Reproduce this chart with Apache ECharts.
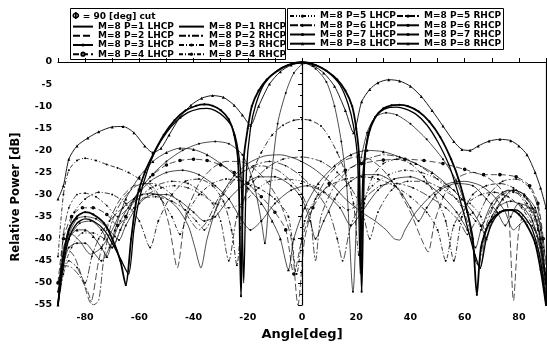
<!DOCTYPE html>
<html>
<head>
<meta charset="utf-8">
<script src="https://cdn.jsdelivr.net/npm/echarts@6/dist/echarts.min.js"></script>
<style>
  html, body { margin: 0; padding: 0; background: #fff; }
  #chart { width: 547px; height: 345px; }
</style>
</head>
<body>
<div id="chart"></div>
<script>
// [angle deg, relative power dB]
const p1_lhcp = [[-90,-55],[-88,-42],[-85,-39],[-82,-40.5],[-78,-43.5],[-74,-42],[-70,-38],[-66,-33],[-61,-30.5],[-56,-29.7],[-51,-30.5],[-46,-33],[-42,-37],[-39.5,-42],[-37.3,-46.6],[-35,-40],[-31,-32],[-26,-26.5],[-20,-23],[-14,-21.3],[-8,-21],[-2,-22],[4,-24],[10,-27],[16,-31],[22,-34],[27,-36],[31,-38],[34,-40],[36,-40.3],[38,-38],[42,-34],[48,-30],[54,-27.5],[60,-27],[66,-28],[71,-30.5],[75,-34],[78,-38],[82,-36],[86,-38],[88,-43],[90,-55]];
const p1_rhcp = [[-90,-55],[-88,-46],[-86,-40],[-83,-36.5],[-80,-35.5],[-77,-36],[-73,-38],[-70,-41],[-67,-44.5],[-64,-48],[-62,-38],[-60,-31],[-57,-24.5],[-54,-20],[-50,-16],[-46,-13.2],[-42,-11.4],[-38,-10.6],[-35,-10.5],[-32,-11],[-29,-12.3],[-26,-14.5],[-24,-18.5],[-22.5,-26],[-21.5,-50],[-20.5,-25],[-19,-15],[-17,-9.5],[-14,-5],[-10,-2.3],[-5,-0.6],[1,-0.2],[6,-0.9],[10,-2.5],[14,-5.2],[17,-9.5],[19,-14.5],[20.5,-22],[21.5,-48],[22.5,-25],[24,-17.5],[26,-13.5],[29,-11.2],[32,-10.3],[35,-10.2],[38,-10.6],[42,-11.8],[46,-14.2],[50,-18],[54,-23],[57,-28.5],[60,-35],[63,-42],[65.7,-46.6],[68,-40],[71,-35.5],[75,-33.5],[79,-33.5],[82,-35],[85,-38],[88,-45],[90,-55]];
const p2_lhcp = [[-90,-52],[-87,-42],[-84,-44],[-81,-49],[-78,-54.5],[-75,-45],[-71,-36],[-67,-31],[-62,-28],[-57,-27.5],[-52,-31],[-49,-37],[-46,-46.6],[-43,-35],[-38,-27.5],[-33,-24],[-28,-22.5],[-23,-22.5],[-18,-24],[-13,-27],[-8,-32],[-4,-40],[-1.5,-55],[1,-40],[5,-31],[10,-25.5],[15,-22.5],[20,-21.5],[25,-22],[30,-24.5],[35,-28.5],[40,-34],[44,-40],[46.5,-43],[49,-36],[53,-29.5],[58,-26],[63,-25],[68,-26],[73,-28.5],[76,-33],[78,-54],[80,-38],[83,-33],[86,-33.5],[88,-37],[90,-45]];
const p2_rhcp = [[-90,-55],[-88,-46],[-85,-46.5],[-82,-48.5],[-79,-52],[-77,-55],[-75,-54],[-73,-44],[-70,-36],[-66,-31],[-61,-28],[-55,-27.5],[-50,-29],[-45,-32],[-41,-36],[-38,-38],[-35,-36],[-31,-31],[-26,-27],[-21,-24.5],[-15,-23.5],[-9,-24.5],[-4,-27],[0,-30],[3,-35],[5,-45],[7,-35],[12,-28],[18,-24],[24,-22],[30,-21],[36,-21.5],[42,-23],[48,-25.5],[54,-29],[59,-33],[62,-38],[65,-46],[68,-37],[72,-31],[76,-29],[80,-30],[84,-34],[87,-41],[90,-55]];
const p3_lhcp = [[-90,-55],[-88,-44],[-86,-39],[-83,-35.5],[-80,-35],[-76,-35.5],[-72,-37.5],[-69,-39.5],[-67.5,-40.3],[-65,-37],[-60,-32],[-55,-30],[-50,-30],[-45,-31.5],[-40,-34],[-36,-36],[-32,-35],[-27,-31],[-22,-28],[-16,-26],[-10,-26],[-4,-28],[0,-31],[3,-36],[5,-40],[8,-36],[13,-30],[18,-27],[23,-25.5],[28,-25.5],[33,-27],[37,-30],[40,-33],[43,-36],[46,-33],[51,-29],[57,-27.5],[63,-28],[68,-31],[72,-34],[75,-37],[77,-35],[80,-32],[84,-33],[87,-37],[90,-50]];
const p3_rhcp = [[-90,-52],[-87,-40],[-84,-34],[-80,-31],[-75,-29.5],[-70,-30],[-65,-32],[-60,-36],[-56,-42],[-53,-36],[-48,-30],[-43,-27],[-38,-26.5],[-33,-28],[-29,-31.5],[-26,-38],[-24,-46],[-22,-33],[-19,-26],[-15,-20.5],[-11,-16.5],[-7,-14.3],[-3,-13.2],[0,-13],[3,-13.2],[7,-14.5],[10,-17],[13,-20.5],[16,-25],[19,-32],[21,-43.7],[23,-32],[26,-26],[30,-23],[35,-22],[40,-23],[45,-26],[49,-30],[53,-36],[56,-45],[59,-35],[63,-30],[68,-28],[73,-27.5],[78,-28.5],[83,-32],[87,-38],[90,-50]];
const p4_lhcp = [[-90,-50],[-88,-40],[-85,-35],[-81,-33],[-77,-33],[-72,-34.5],[-68,-37],[-65,-35],[-60,-29],[-55,-25.5],[-50,-23.3],[-45,-22.3],[-40,-22],[-35,-22.3],[-30,-23.3],[-25,-25],[-20,-27.5],[-15,-30.5],[-10,-34],[-6,-38],[-3,-48],[0,-40],[4,-33],[10,-27.5],[16,-24.5],[22,-23],[30,-22.2],[38,-22],[45,-22.3],[52,-23],[60,-24.3],[67,-25.5],[73,-25.5],[79,-26],[84,-28],[87,-32],[89,-40],[90,-48]];
const p4_rhcp = [[-90,-44],[-88,-30],[-86,-24.5],[-83,-22.3],[-80,-21.8],[-76,-22.3],[-72,-23.2],[-68,-24],[-64,-25],[-60,-26.5],[-56,-28.5],[-52,-31],[-48,-35],[-45,-39],[-42,-34],[-38,-30],[-33,-27.5],[-28,-26.5],[-22,-27],[-16,-28.5],[-10,-31],[-5,-35],[-2,-48],[1,-36],[5,-31],[10,-28],[16,-26.5],[22,-26],[28,-26.5],[34,-28],[40,-30.5],[46,-34],[50,-38],[53,-45],[56,-37],[61,-32],[66,-30],[71,-29.5],[76,-30.5],[81,-33],[85,-37],[88,-42],[90,-50]];
const p5_lhcp = [[-90,-55],[-88,-47],[-85,-42],[-81,-38.7],[-77,-38.7],[-73,-40],[-70,-42],[-67,-38],[-62,-33],[-57,-30],[-52,-28.5],[-47,-28],[-42,-28.5],[-37,-30],[-32,-32],[-27,-33],[-22,-32],[-17,-29],[-12,-27],[-6,-26.5],[0,-27],[6,-28.5],[12,-31],[17,-33.5],[21,-32],[26,-28],[32,-25.5],[38,-24.5],[44,-25],[50,-26.5],[56,-29],[62,-32],[66,-35],[68,-40],[70,-35],[74,-31],[78,-29.5],[82,-30.5],[86,-34],[88,-40],[90,-52]];
const p5_rhcp = [[-90,-55],[-88,-39],[-86,-33],[-83,-30],[-80,-29.7],[-76,-30.5],[-72,-32.5],[-68,-35],[-64,-33],[-59,-30],[-54,-28],[-48,-27],[-42,-27.5],[-37,-29.5],[-33,-32],[-30,-36],[-27,-45],[-24,-35],[-19,-28],[-13,-24],[-7,-22],[0,-21.5],[7,-22.5],[13,-25],[18,-28.5],[22,-33],[25,-40],[28,-34],[33,-29],[39,-27],[45,-27],[51,-28.5],[57,-31],[62,-34.5],[66,-37],[70,-33],[74,-30],[79,-29],[83,-31],[86,-35],[88,-41],[90,-55]];
const p6_lhcp = [[-90,-55],[-88,-48],[-86,-45],[-83,-46.5],[-80,-50],[-77.5,-44],[-75,-40],[-71,-36],[-66,-33],[-60,-31],[-54,-30.5],[-48,-31.5],[-43,-33.5],[-39,-36],[-36,-38],[-33,-35],[-29,-30],[-24,-26],[-18,-23.5],[-12,-22.5],[-6,-23.5],[0,-26],[6,-30],[10,-34],[13,-40],[15,-45],[18,-37],[23,-31],[29,-28],[35,-27.5],[41,-28.5],[47,-30.5],[53,-33],[58,-36],[61,-39],[64,-36],[69,-30],[74,-27],[79,-26.5],[84,-28.5],[87,-33],[89,-42],[90,-55]];
const p6_rhcp = [[-90,-55],[-88,-44],[-86,-38],[-83,-35],[-80,-34],[-77,-34.5],[-73,-36.5],[-70,-40],[-67,-45],[-65,-50.5],[-63,-40],[-61,-31],[-58,-25],[-55,-21],[-51,-16.5],[-47,-13.2],[-43,-11],[-39,-9.9],[-36,-9.6],[-33,-9.9],[-30,-10.9],[-27,-13],[-25,-16.5],[-23.5,-23],[-22.5,-53],[-21.5,-22],[-20,-15],[-18.5,-10],[-16,-6.5],[-13,-4],[-9,-2],[-5,-0.7],[0,0],[5,-0.7],[9,-2],[13,-4],[16,-6.5],[18.5,-10],[20,-15],[21,-21],[22,-52],[23,-23],[24.5,-16.5],[27,-12.5],[30,-10.5],[33,-9.8],[36,-9.7],[39,-10],[43,-11.2],[47,-13.5],[51,-17],[55,-22],[58,-27],[61,-34],[63,-40],[64.5,-52.7],[66,-42],[69,-36.5],[73,-34],[77,-33.5],[80,-34.5],[83,-37],[86,-41],[88,-47],[90,-55]];
const p7_lhcp = [[-90,-55],[-88,-46],[-86,-42],[-83,-41],[-80,-41],[-77,-43],[-74,-45],[-71,-42],[-67,-36],[-62,-31],[-56,-27],[-50,-25],[-44,-24.5],[-38,-25.5],[-32,-28],[-27,-31],[-23,-35],[-19,-38],[-15,-36],[-10,-32],[-4,-29],[2,-28],[8,-29.5],[14,-33],[18,-37],[22,-34],[28,-29],[34,-26.5],[40,-26],[46,-27.5],[52,-30.5],[57,-34],[61,-38],[64,-42],[66,-38],[70,-32],[74,-29.5],[78,-29],[82,-30],[86,-33],[88,-38],[90,-50]];
const p7_rhcp = [[-90,-50],[-86,-40],[-82,-36.5],[-78,-36],[-74,-38],[-70,-42],[-67,-38],[-62,-31],[-56,-26],[-50,-22.5],[-44,-20],[-38,-18.5],[-32,-18],[-27,-18.5],[-22,-21],[-18,-27],[-15,-36],[-13.7,-41],[-12,-30],[-9,-14],[-6,-7],[-3,-2.5],[1,-0.3],[5,-1.5],[9,-4.5],[12,-10],[14.5,-18],[16.5,-28],[18.8,-52],[21,-25],[24,-16],[27,-12.5],[31,-11.5],[35,-12],[40,-14],[46,-17.5],[52,-22],[57,-27],[61,-34],[64,-45],[65.7,-46.6],[68,-38],[72,-33],[77,-31.5],[81,-32.5],[85,-36],[88,-42],[90,-52]];
const p8_lhcp = [[-90,-55],[-88,-44],[-86,-40],[-83,-38],[-80,-38],[-77,-39.5],[-74,-42],[-72,-44],[-69,-38],[-65,-31],[-60,-26],[-55,-22.5],[-50,-20.5],[-45,-19.5],[-40,-19.8],[-35,-21],[-30,-23],[-25,-25.5],[-20,-28.5],[-15,-32],[-11,-36],[-8,-40],[-5,-47],[-3,-40],[1,-33],[6,-27.5],[12,-23.5],[18,-21],[24,-20],[30,-20.3],[36,-21.5],[42,-23],[48,-25],[54,-28],[59,-31],[63,-34],[66,-37],[68,-40],[70,-36],[74,-31],[78,-29],[82,-30],[85,-33],[88,-40],[90,-50]];
const p8_rhcp = [[-90,-31],[-88,-28],[-86,-22],[-83,-19],[-79,-17.2],[-75,-15.8],[-70,-14.7],[-66,-14.6],[-62,-16],[-58,-19],[-55,-20.5],[-52,-19.5],[-49,-16.5],[-45,-12.5],[-41,-9.8],[-37,-8.2],[-33,-7.6],[-29,-8],[-25,-9.8],[-22,-12],[-19,-14.3],[-16,-10],[-12,-5],[-8,-2.2],[-4,-0.7],[0,-0.2],[4,-0.8],[8,-2.5],[12,-5.5],[16,-11],[19,-16],[22,-9],[25,-6.2],[28,-4.7],[32,-4],[36,-4.3],[40,-5.5],[44,-7.8],[48,-11],[52,-14.5],[56,-18],[59,-19.8],[62,-20],[65,-19],[69,-17.9],[73,-17.5],[77,-17.8],[80,-19],[83,-21],[86,-25],[88,-28.5],[90,-33]];

const namesL1 = ['M=8 P=1 LHCP', 'M=8 P=2 LHCP', 'M=8 P=3 LHCP', 'M=8 P=4 LHCP'];
const namesR1 = ['M=8 P=1 RHCP', 'M=8 P=2 RHCP', 'M=8 P=3 RHCP', 'M=8 P=4 RHCP'];
const namesL2 = ['M=8 P=5 LHCP', 'M=8 P=6 LHCP', 'M=8 P=7 LHCP', 'M=8 P=8 LHCP'];
const namesR2 = ['M=8 P=5 RHCP', 'M=8 P=6 RHCP', 'M=8 P=7 RHCP', 'M=8 P=8 RHCP'];

// series drawn with a bare line, no marker (legend icon must hide its symbol)
const plain = ['M=8 P=1 LHCP', 'M=8 P=1 RHCP', 'M=8 P=2 LHCP', 'M=8 P=2 RHCP'];

const font = 'DejaVu Sans';

function line(name, data, width, dash, symbol, size) {
  return {
    name: name,
    type: 'line',
    data: data,
    smooth: 0.25,
    symbol: symbol || 'none',
    symbolSize: size || 2,
    showSymbol: !!symbol,
    lineStyle: { color: '#000', width: width, type: dash },
    itemStyle: { color: '#000', borderWidth: 0.5 },
    emphasis: { disabled: true }
  };
}

function legendItems(names) {
  return names.map(n => plain.indexOf(n) >= 0 ? { name: n, itemStyle: { opacity: 0 } } : { name: n });
}

const legendBase = {
  orient: 'vertical',
  padding: 0,
  itemGap: 0,
  itemHeight: 4,
  selectedMode: false,
  textStyle: { fontFamily: font, fontWeight: 'bold', fontSize: 9, lineHeight: 9.2, color: '#000' }
};

const chart = echarts.init(document.getElementById('chart'));
chart.setOption({
  animation: false,
  title: {
    text: 'Φ = 90 [deg] cut',
    left: 72, top: 12, padding: 0,
    textStyle: { fontFamily: font, fontWeight: 'bold', fontSize: 9, lineHeight: 9.2, color: '#000' }
  },
  legend: [
    Object.assign({}, legendBase, { data: legendItems(namesL1), left: 72, top: 22, itemWidth: 20 }),
    Object.assign({}, legendBase, { data: legendItems(namesR1), left: 178, top: 22, itemWidth: 25 }),
    Object.assign({}, legendBase, { data: legendItems(namesL2), left: 289, top: 11.5, itemWidth: 25 }),
    Object.assign({}, legendBase, { data: legendItems(namesR2), left: 396, top: 11.5, itemWidth: 22 })
  ],
  graphic: [
    { type: 'rect', shape: { x: 70.5, y: 8.5, width: 215, height: 51 }, style: { fill: 'none', stroke: '#000', lineWidth: 1 } },
    { type: 'rect', shape: { x: 287.5, y: 8.5, width: 216, height: 41 }, style: { fill: 'none', stroke: '#000', lineWidth: 1 } }
  ],
  grid: { left: 58, right: 1, top: 62, bottom: 40, outerBoundsMode: 'none' },
  xAxis: {
    type: 'value', min: -90, max: 90, interval: 10,
    name: 'Angle[deg]', nameLocation: 'middle', nameGap: 21,
    nameTextStyle: { fontFamily: font, fontWeight: 'bold', fontSize: 13, color: '#000' },
    axisLine: { lineStyle: { color: '#000', width: 1.2 } },
    axisTick: { inside: true, length: 4, lineStyle: { color: '#000' } },
    axisLabel: {
      margin: 8, color: '#000', fontFamily: font, fontWeight: 'bold', fontSize: 9.5,
      formatter: v => (v % 20 === 0 ? String(v) : '')
    },
    splitLine: { show: false }
  },
  yAxis: [{
    type: 'value', min: -55, max: 0, interval: 5,
    name: 'Relative Power [dB]', nameLocation: 'middle', nameGap: 36,
    nameTextStyle: { fontFamily: font, fontWeight: 'bold', fontSize: 11.5, color: '#000', padding: [0, 27, 0, 0] },
    axisLine: { lineStyle: { color: '#000', width: 1.2 } },
    axisTick: { length: 4, lineStyle: { color: '#000' } },
    minorTick: { show: true, splitNumber: 2, length: 2, lineStyle: { color: '#000' } },
    axisLabel: { margin: 6, color: '#000', fontFamily: font, fontWeight: 'bold', fontSize: 9.5 },
    splitLine: { show: false }
  }, {
    type: 'value', min: -55, max: 0, position: 'right',
    axisLine: { show: true, lineStyle: { color: '#000', width: 1.2 } },
    axisTick: { show: false }, axisLabel: { show: false }, splitLine: { show: false }
  }],
  series: [
    line('M=8 P=1 LHCP', p1_lhcp, 0.7, 'solid'),
    line('M=8 P=1 RHCP', p1_rhcp, 1.3, 'solid'),
    line('M=8 P=2 LHCP', p2_lhcp, 0.7, [7, 3]),
    line('M=8 P=2 RHCP', p2_rhcp, 0.7, [7, 2, 2, 2]),
    line('M=8 P=3 LHCP', p3_lhcp, 0.7, 'solid', 'circle', 2),
    line('M=8 P=3 RHCP', p3_rhcp, 0.8, [5, 2, 1, 2], 'circle', 2),
    line('M=8 P=4 LHCP', p4_lhcp, 0.7, [6, 3], 'emptyCircle', 1.6),
    line('M=8 P=4 RHCP', p4_rhcp, 0.8, [4, 2, 1, 2], 'circle', 2),
    line('M=8 P=5 LHCP', p5_lhcp, 0.7, [4, 2, 1, 2, 1, 2], 'circle', 1.8),
    line('M=8 P=5 RHCP', p5_rhcp, 0.7, [6, 2, 2, 2], 'circle', 1.8),
    line('M=8 P=6 LHCP', p6_lhcp, 0.7, [8, 2, 2, 2], 'circle', 1.8),
    line('M=8 P=6 RHCP', p6_rhcp, 1.8, 'solid', 'circle', 2.2),
    line('M=8 P=7 LHCP', p7_lhcp, 0.7, 'solid', 'circle', 2),
    line('M=8 P=7 RHCP', p7_rhcp, 0.7, 'solid', 'circle', 2),
    line('M=8 P=8 LHCP', p8_lhcp, 0.7, 'solid', 'triangle', 3),
    line('M=8 P=8 RHCP', p8_rhcp, 0.9, 'solid', 'triangle', 3)
  ]
});
</script>
</body>
</html>
